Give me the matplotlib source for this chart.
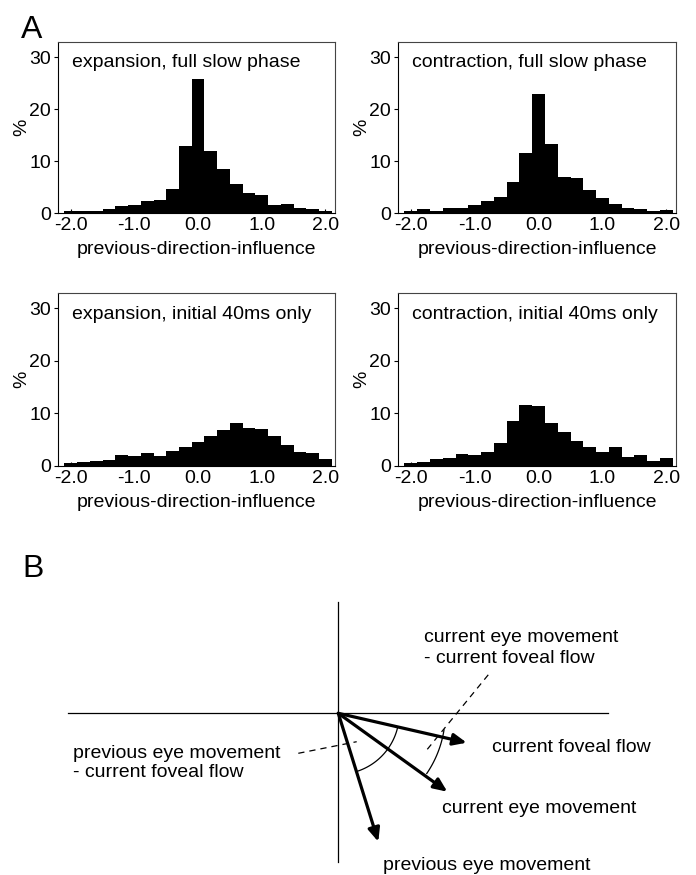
#!/usr/bin/env python3
"""Previous-direction-influence histograms (A) and vector schematic (B)."""

import matplotlib
matplotlib.use("Agg")
import matplotlib.pyplot as plt
from matplotlib.patches import FancyArrowPatch
import numpy as np

plt.rcParams["font.family"] = ["Liberation Sans", "DejaVu Sans"]
plt.rcParams["font.size"] = 14

# --- panel A data: bin centres and % per bin ---
bin_centers = [-2.0, -1.8, -1.6, -1.4, -1.2, -1.0, -0.8, -0.6, -0.4, -0.2, 0.0,
               0.2, 0.4, 0.6, 0.8, 1.0, 1.2, 1.4, 1.6, 1.8, 2.0]
expansion_full = [0.45, 0.45, 0.45, 0.8, 1.35, 1.55, 2.4, 2.5, 4.6, 12.9, 25.8,
                  12.0, 8.5, 5.6, 3.85, 3.5, 1.6, 1.8, 1.1, 0.75, 0.45]
contraction_full = [0.5, 0.75, 0.5, 1.0, 1.0, 1.5, 2.4, 3.2, 6.0, 11.5, 23.0,
                    13.3, 7.0, 6.7, 4.4, 2.9, 1.7, 1.0, 0.75, 0.5, 0.65]
expansion_init = [0.5, 0.7, 0.9, 1.2, 2.05, 1.85, 2.55, 1.85, 2.9, 3.6, 4.55,
                  5.65, 6.8, 8.1, 7.2, 7.0, 5.65, 4.05, 2.75, 2.55, 1.3]
contraction_init = [0.5, 0.75, 1.3, 1.6, 2.25, 2.1, 2.7, 4.4, 8.6, 11.6, 11.5,
                    8.1, 6.5, 4.7, 3.7, 2.7, 3.7, 1.7, 2.0, 1.0, 1.5]
titles = ["expansion, full slow phase", "contraction, full slow phase",
          "expansion, initial 40ms only", "contraction, initial 40ms only"]
xticks = [-2.0, -1.0, 0.0, 1.0, 2.0]
xtick_labels = ["-2.0", "-1.0", "0.0", "1.0", "2.0"]
yticks = [0, 10, 20, 30]

# --- panel B data: vectors relative to the origin (pixel units, y up) ---
foveal_flow = (128.4, -29.4)
current_eye = (109.0, -78.4)
previous_eye = (40.0, -128.4)
h_axis = (-270.0, 270.0)
v_axis = (-148.4, 111.3)
dash_cur = [(89.0, -36.0), (152.0, 41.0)]
dash_prev = [(-40.0, -40.0), (18.4, -28.4)]
arc_small_r = 61.0
arc_big_r = 107.0

W, H = 696, 875
fig = plt.figure(figsize=(W / 100, H / 100), dpi=100)


def px_axes(left, top, right, bottom):
    return fig.add_axes([left / W, 1 - bottom / H, (right - left) / W,
                         (bottom - top) / H])


def hist_panel(ax, values, title):
    ax.bar(bin_centers, values, width=0.2, color="black", edgecolor="none")
    ax.set_xlim(-2.2, 2.15)
    ax.set_ylim(0, 33)
    ax.set_xticks(xticks)
    ax.set_xticklabels(xtick_labels)
    ax.set_yticks(yticks)
    ax.tick_params(axis="x", direction="in", length=3, pad=3, labelsize=14)
    ax.tick_params(axis="y", direction="out", length=3, pad=2, labelsize=14)
    for name, s in ax.spines.items():
        s.set_linewidth(0.8)
        if name in ("top", "right"):
            s.set_color("#444444")
    ax.text(0.05, 0.85, title, transform=ax.transAxes, fontsize=14,
            va="baseline", ha="left")
    ax.set_xlabel("previous-direction-influence", fontsize=14, labelpad=5)
    ax.set_ylabel("%", fontsize=14)
    ax.yaxis.set_label_coords(-0.100, 0.5)


ax1 = px_axes(58, 41.7, 335, 213.3)
ax2 = px_axes(398, 41.7, 676, 213.3)
ax3 = px_axes(58, 292.7, 335, 466)
ax4 = px_axes(398, 292.7, 676, 466)
for ax, vals, t in zip([ax1, ax2, ax3, ax4],
                       [expansion_full, contraction_full,
                        expansion_init, contraction_init], titles):
    hist_panel(ax, vals, t)

fig.text(21 / W, 1 - 38 / H, "A", fontsize=23, va="baseline", ha="left")
fig.text(22 / W, 1 - 577 / H, "B", fontsize=23, va="baseline", ha="left")

# --- panel B schematic ---
ox, oy = 338.3, 713.3
axb = px_axes(0, 590, W, H)
axb.set_xlim(-ox, W - ox)
axb.set_ylim(-(H - oy), oy - 590)
axb.axis("off")

axb.plot(h_axis, [0, 0], color="black", lw=0.9)
axb.plot([0, 0], v_axis, color="black", lw=0.9)

for vec in (foveal_flow, current_eye, previous_eye):
    arr = FancyArrowPatch((0, 0), vec, arrowstyle="-|>,head_length=0.8,head_width=0.35",
                          mutation_scale=10, lw=2.3, color="black",
                          shrinkA=0, shrinkB=0)
    axb.add_patch(arr)

ang_ff = np.arctan2(foveal_flow[1], foveal_flow[0])
ang_ce = np.arctan2(current_eye[1], current_eye[0])
ang_pe = np.arctan2(previous_eye[1], previous_eye[0])
t1 = np.linspace(ang_pe + np.radians(1.5), ang_ff - np.radians(1.0), 60)
axb.plot(arc_small_r * np.cos(t1), arc_small_r * np.sin(t1), color="black", lw=0.9)
t2 = np.linspace(ang_ce + np.radians(1.5), ang_ff + np.radians(4.0), 60)
axb.plot(arc_big_r * np.cos(t2), arc_big_r * np.sin(t2), color="black", lw=0.9)

for seg in (dash_cur, dash_prev):
    xs, ys = zip(*seg)
    axb.plot(xs, ys, color="black", lw=0.9, dashes=(5, 4))

lab = dict(fontsize=14, ha="left", va="baseline")
axb.text(153.4, -38.4, "current foveal flow", **lab)
axb.text(103.4, -99.4, "current eye movement", **lab)
axb.text(45.0, -156.7, "previous eye movement", **lab)
axb.text(-265.0, -45.0, "previous eye movement", **lab)
axb.text(-265.0, -64.0, "- current foveal flow", **lab)
axb.text(86.1, 71.3, "current eye movement", **lab)
axb.text(86.1, 50.3, "- current foveal flow", **lab)

fig.savefig("out.png", dpi=100)
